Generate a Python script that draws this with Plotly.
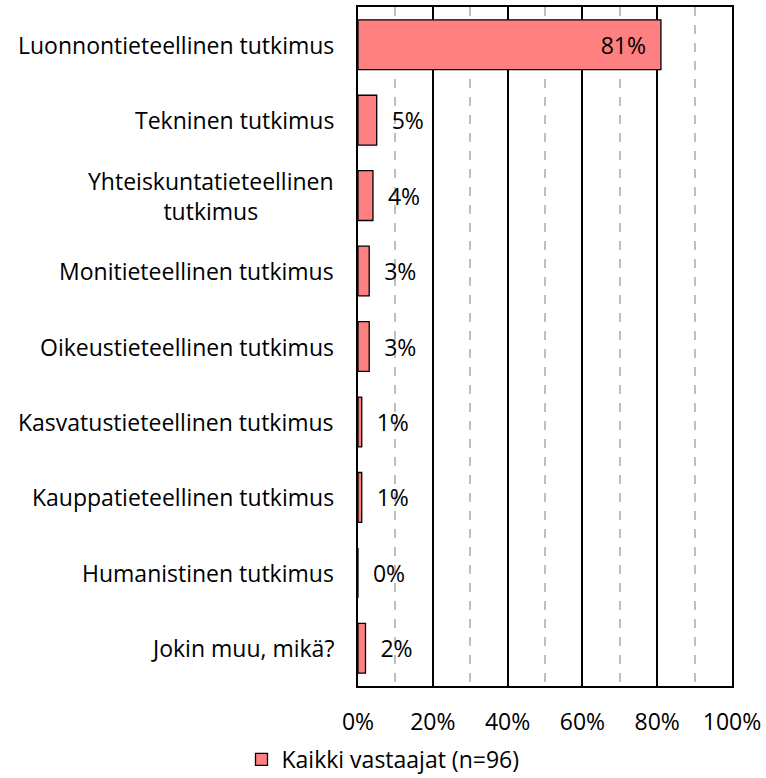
import plotly.graph_objects as go

categories = [
    "Luonnontieteellinen tutkimus",
    "Tekninen tutkimus",
    "Yhteiskuntatieteellinen<br>tutkimus",
    "Monitieteellinen tutkimus",
    "Oikeustieteellinen tutkimus",
    "Kasvatustieteellinen tutkimus",
    "Kauppatieteellinen tutkimus",
    "Humanistinen tutkimus",
    "Jokin muu, mikä?",
]
values = [81, 5, 4, 3, 3, 1, 1, 0, 2]
series_name = "Kaikki vastaajat (n=96)"
x_ticks = [0, 20, 40, 60, 80, 100]
x_ticklabels = ["0%", "20%", "40%", "60%", "80%", "100%"]

FONT = "Open Sans, sans-serif"
FS = 23
BAR = "#FF8080"
NB = "\u00a0"

labels = [f"{v}%" + NB * 2 if v > 50 else NB * 2 + f"{v}%" for v in values]
positions = ["inside" if v > 50 else "outside" for v in values]

fig = go.Figure()
fig.add_trace(go.Bar(
    y=categories, x=values, orientation="h", name=series_name,
    marker=dict(color=BAR, line=dict(color="#000000", width=1.3)),
    text=labels, textposition=positions, insidetextanchor="end",
    textfont=dict(family=FONT, size=FS, color="#000000"),
    cliponaxis=False, showlegend=True,
))

for c in categories:
    fig.add_annotation(x=0, xref="paper", xanchor="right", xshift=-22,
                       y=c, yref="y", text=c, showarrow=False, align="center",
                       font=dict(family=FONT, size=FS, color="#000000"))

fig.update_layout(
    width=766, height=778,
    margin=dict(l=358, r=34, t=7, b=92, autoexpand=False),
    paper_bgcolor="white", plot_bgcolor="white",
    bargap=0.34,
    font=dict(family=FONT, size=FS, color="#000000"),
    legend=dict(orientation="h", x=0.5, xref="container", xanchor="center",
                y=0.024, yref="container", yanchor="middle",
                font=dict(family=FONT, size=FS), itemwidth=30),
)
fig.update_xaxes(
    range=[0, 100], tickvals=x_ticks, ticktext=x_ticklabels,
    showgrid=True, gridcolor="#000000", gridwidth=1.5,
    minor=dict(dtick=10, showgrid=True, gridcolor="#BFBFBF", griddash="dash", gridwidth=1.5),
    showline=True, linecolor="#000000", linewidth=2, mirror=True,
    ticks="", ticklabelstandoff=14, zeroline=False,
    tickfont=dict(family=FONT, size=FS),
)
fig.update_yaxes(
    autorange="reversed", showticklabels=False, ticks="",
    showline=True, linecolor="#000000", linewidth=2, mirror=True,
    showgrid=False,
)

fig.write_html("out.html", config={"displayModeBar": False},
               post_script="document.body.style.margin='0';")
